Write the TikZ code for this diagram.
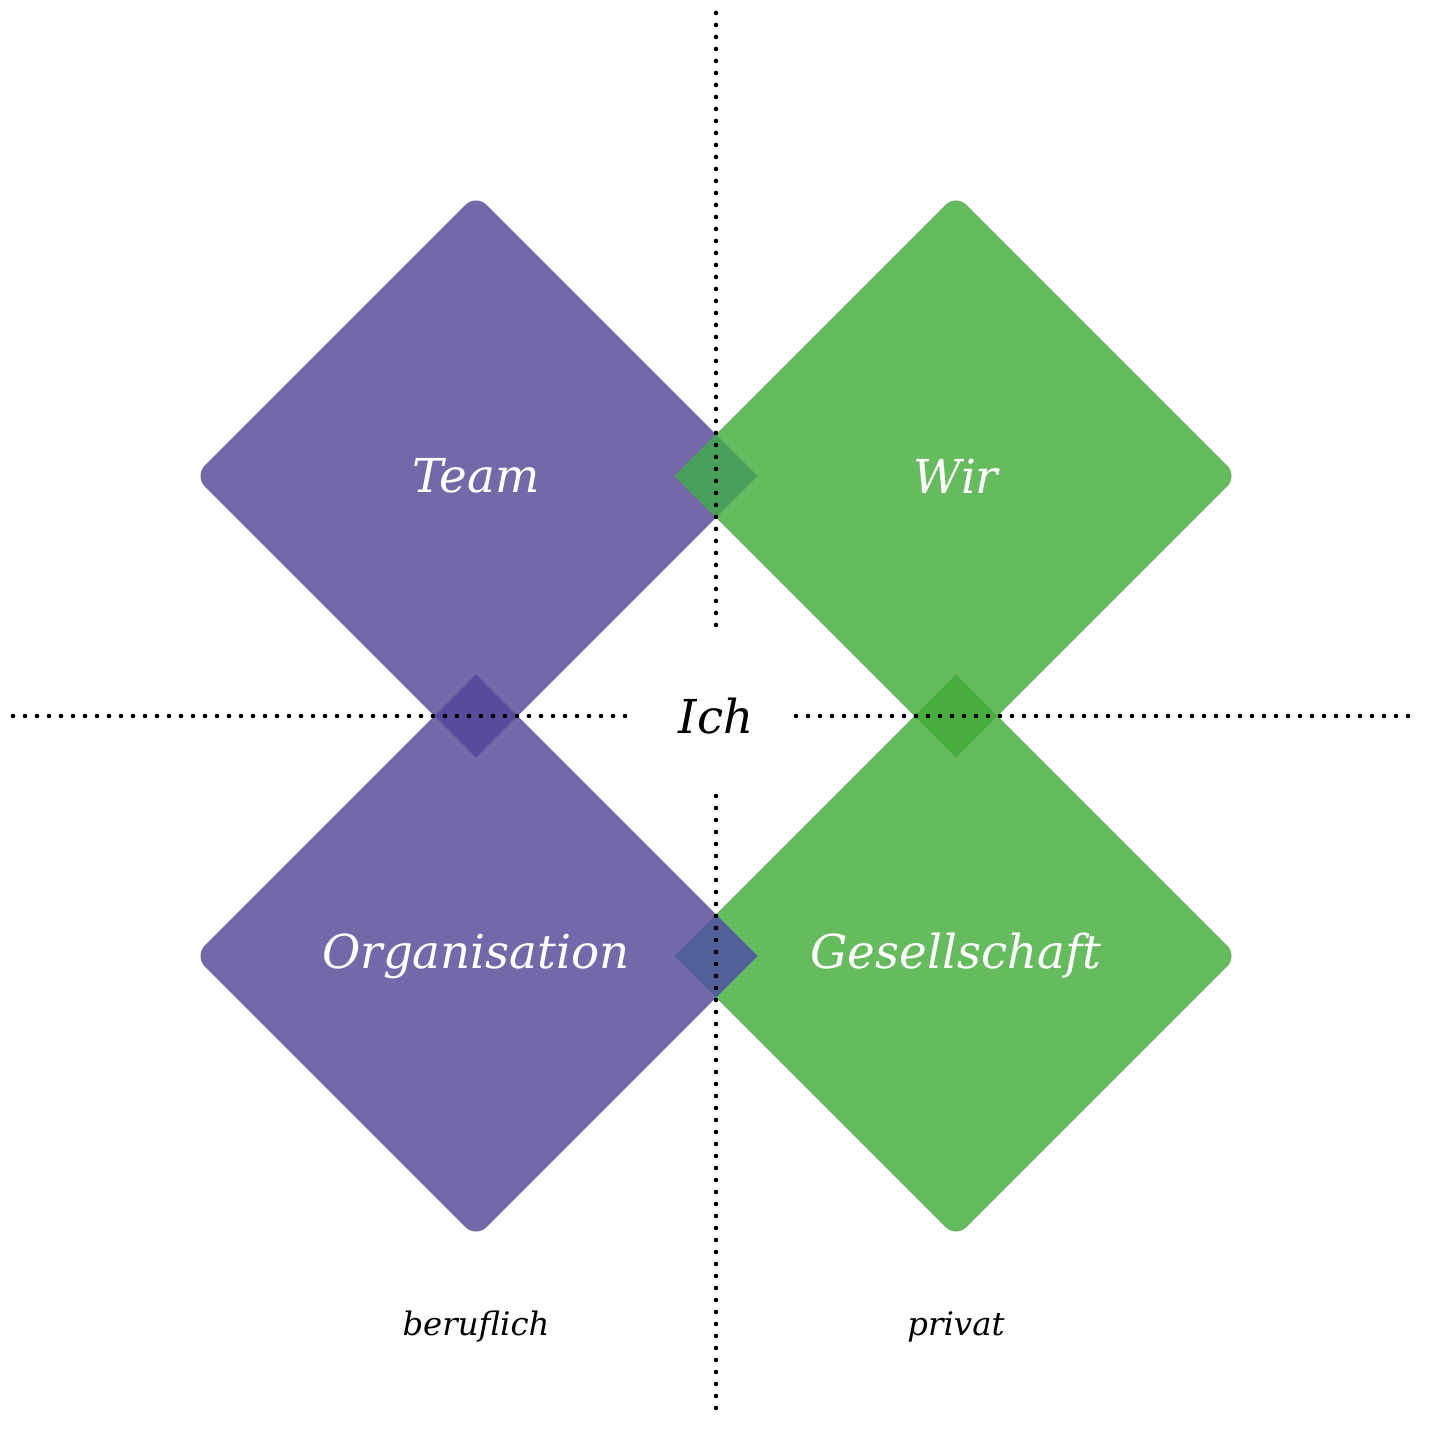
\documentclass[tikz,border=0pt]{standalone}
\usepackage{fontspec}
\setmainfont{DejaVu Serif}
\usepackage{tikz}
\usetikzlibrary{calc, positioning, shapes.geometric}
\usepackage{xcolor}

\definecolor{lila}{HTML}{7469A8}
\definecolor{gruen}{HTML}{66BB5E}
\definecolor{lilagruen}{HTML}{4A9F5C}
\definecolor{lilalila}{HTML}{574C9A}
\definecolor{lilablau}{HTML}{535F99}
\definecolor{gruengruen}{HTML}{4AAE3E}

\begin{document}
\begin{tikzpicture}[
    font=\itshape\fontsize{13.3}{16}\selectfont,
    raute/.style={diamond, aspect=1, draw=none, rounded corners=0.15cm, minimum width=5.64cm, minimum height=5.64cm, inner sep=0pt, text=white},
    schnitt/.style={diamond, aspect=1, draw=none, minimum width=0.84cm, minimum height=0.84cm, inner sep=0pt},
    punkte/.style={line width=1.3pt, line cap=round, dash pattern=on 0pt off 0.12cm},
    notiz/.style={font=\itshape\fontsize{9.2}{11}\selectfont}
  ]
    \fill[white] (-7.16,-7.17) rectangle (7.17,7.16);

    \node[raute, fill=lila]  (team) at (-2.4, 2.4)  {Team};
    \node[raute, fill=gruen] (wir)  at ( 2.4, 2.4)  {Wir};
    \node[raute, fill=lila]  (org)  at (-2.4,-2.4)  {Organisation};
    \node[raute, fill=gruen] (ges)  at ( 2.4,-2.4)  {Gesellschaft};

    % Ueberschneidungen
    \node[schnitt, fill=lilagruen]  (tw) at ($(team)!0.5!(wir)$) {};
    \node[schnitt, fill=lilalila]   (to) at ($(team)!0.5!(org)$) {};
    \node[schnitt, fill=lilablau]   (og) at ($(org)!0.5!(ges)$)  {};
    \node[schnitt, fill=gruengruen] (wg) at ($(wir)!0.5!(ges)$)  {};

    \node (ich) at (0,0) {Ich};

    \coordinate (oben)   at (0, 7.03);
    \coordinate (obenI)  at (0, 0.91);
    \coordinate (untenI) at (0,-0.80);
    \coordinate (unten)  at (0,-6.92);
    \coordinate (links)  at (-7.03,0);
    \coordinate (linksI) at (-0.91,0);
    \coordinate (rechtsI) at (0.80,0);
    \coordinate (rechts) at (6.92,0);

    \draw[punkte] (oben) -- (obenI);
    \draw[punkte] (untenI) -- (unten);
    \draw[punkte] (links) -- (linksI);
    \draw[punkte] (rechtsI) -- (rechts);

    \node[notiz] (beruf) at (org.center |- 0,-6.11) {beruflich};
    \node[notiz] (priv)  at (ges.center |- 0,-6.11) {privat};
  \end{tikzpicture}
\end{document}
